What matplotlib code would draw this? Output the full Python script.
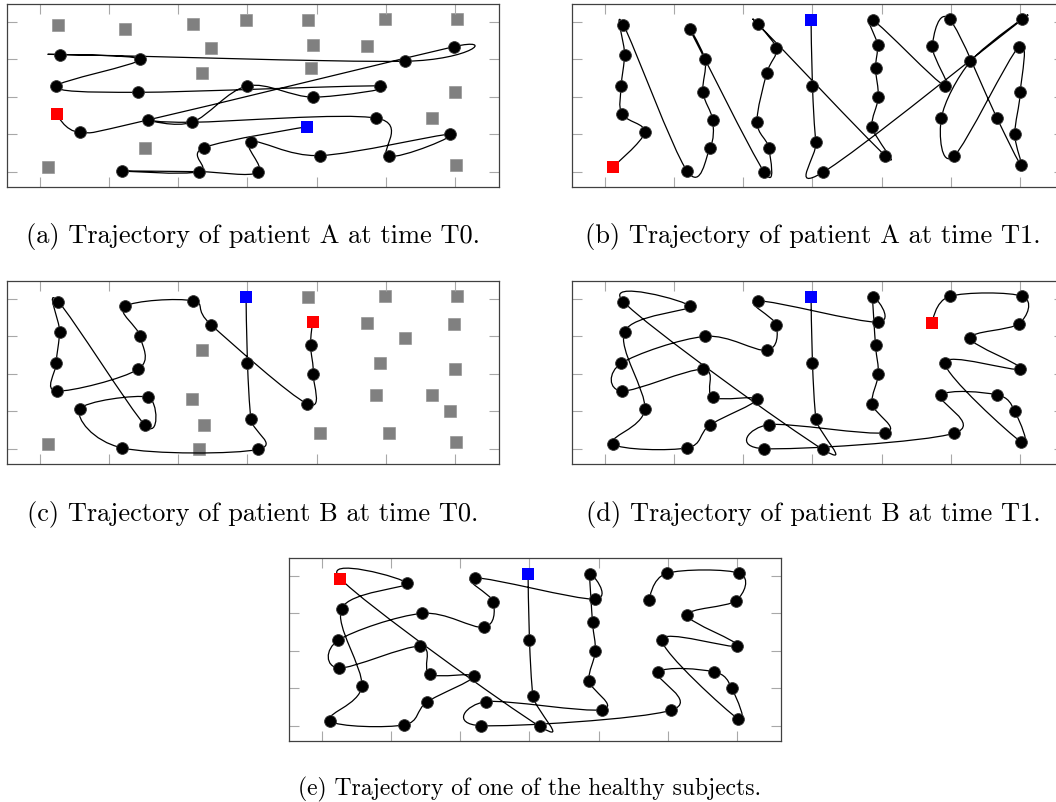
import numpy as np
import matplotlib
matplotlib.use("Agg")
import matplotlib.pyplot as plt
from matplotlib.path import Path
from matplotlib.patches import PathPatch

# target layout shared by every test sheet (grid units: x ticks 0..6, y ticks 0..4)
target_names = ["A1", "A2", "A3", "A4", "A5", "A6",
                "B1", "B2", "B3", "B4", "B5", "B6",
                "C1", "C2", "C3", "C4", "C5", "C6",
                "D1", "D2", "D3", "D4",
                "E1", "E2", "E3", "E4", "E5", "E6",
                "F1", "F2", "F3", "F4", "F5", "F6",
                "G1", "G2", "G3", "G4", "G5", "G6"]
target_x = [0.27, 0.29, 0.24, 0.25, 0.58, 0.12,
            1.23, 1.45, 1.42, 1.56, 1.52, 1.19,
            2.21, 2.48, 2.34, 2.20, 2.37, 2.30,
            2.98, 3.00, 3.05, 3.15,
            3.87, 3.94, 3.91, 3.95, 3.86, 4.05,
            4.98, 4.73, 5.28, 4.91, 4.86, 5.04,
            6.03, 5.98, 6.00, 5.66, 5.92, 6.01]
target_y = [3.93, 3.13, 2.28, 1.54, 1.05, 0.13,
            3.80, 3.00, 2.12, 1.38, 0.63, 0.02,
            3.95, 3.30, 2.63, 1.32, 0.64, 0.00,
            4.05, 2.29, 0.80, -0.02,
            4.05, 3.38, 2.76, 1.99, 1.20, 0.43,
            4.07, 3.35, 2.95, 2.29, 1.43, 0.41,
            4.07, 3.34, 2.13, 1.44, 1.00, 0.18]

# visiting order of each recording
path_a_t0 = ["A4", "A5", "B4", "G2", "F3", "A2", "B2", "A3", "B3", "F4", "E4", "D2",
             "C4", "B4", "C4", "F5", "F6", "G5", "E6", "D3", "D4", "C6", "B6", "C6",
             "C5", "E5"]
path_a_t1 = ["A6", "A5", "A4", "A3", "A2", "A1", "B6", "B5", "B4", "B3", "B2", "B1",
             "C6", "C5", "C4", "C3", "C2", "C1", "E6", "E5", "E4", "E3", "E2", "E1",
             "F4", "F2", "F1", "G4", "G6", "G5", "G3", "G2", "F6", "F5", "F3", "G1",
             "D4", "D3", "D2", "D1"]
path_b_t0 = ["E2", "E3", "E4", "E5", "C2", "C1", "B1", "B2", "B3", "A4", "A3", "A2",
             "A1", "B5", "B4", "A5", "B6", "D4", "D3", "D2", "D1"]
path_b_t1 = ["F2", "F1", "G1", "G2", "F3", "G3", "F4", "G6", "G5", "G4", "F5", "F6",
             "C6", "C5", "E6", "E5", "E4", "E3", "E1", "E2", "C1", "C2", "C3", "B2",
             "A3", "A4", "B3", "B4", "C4", "B5", "B6", "A6", "A5", "A2", "B1", "A1",
             "D4", "D3", "D2", "D1"]
path_healthy = list(path_b_t1)

red_targets = ["A4", "A6", "E2", "F2", "A1"]
blue_targets = ["E5", "D1", "D1", "D1", "D1"]

captions = ["(a) Trajectory of patient A at time T0.",
            "(b) Trajectory of patient A at time T1.",
            "(c) Trajectory of patient B at time T0.",
            "(d) Trajectory of patient B at time T1.",
            "(e) Trajectory of one of the healthy subjects."]
paths = [path_a_t0, path_a_t1, path_b_t0, path_b_t1, path_healthy]

pos = dict(zip(target_names, zip(target_x, target_y)))

FIG_W, FIG_H = 1056, 802
AX_W, AX_H = 492, 183
# panel top-left corners, caption centres (pixels) and caption sizes
panel_px = [(7, 4), (572, 4), (7, 281), (572, 281), (289, 558)]
caption_px = [(253, 236), (813, 236), (253, 514), (813, 514), (530, 789)]
caption_size = [19, 19, 19, 19, 17]


def smooth_path(names, k=1.0 / 6):
    p = np.array([pos[n] for n in names], dtype=float)
    tan = np.zeros_like(p)
    tan[1:-1] = p[2:] - p[:-2]
    verts = [p[0]]
    codes = [Path.MOVETO]
    for i in range(len(p) - 1):
        verts += [p[i] + k * tan[i], p[i + 1] - k * tan[i + 1], p[i + 1]]
        codes += [Path.CURVE4] * 3
    return Path(verts, codes)


fig = plt.figure(figsize=(FIG_W / 100, FIG_H / 100), dpi=100)

for idx in range(5):
    left, top = panel_px[idx]
    ax = fig.add_axes([left / FIG_W, 1 - (top + AX_H) / FIG_H, AX_W / FIG_W, AX_H / FIG_H])
    ax.set_xlim(-0.47, 6.63)
    ax.set_ylim(-0.41, 4.48)
    ax.set_xticks(range(7))
    ax.set_yticks(range(5))
    ax.tick_params(direction="in", length=7, width=0.8, color="#a8a8a8",
                   top=True, right=True, labelbottom=False, labelleft=False)
    for sp in ax.spines.values():
        sp.set_color("#404040")
        sp.set_linewidth(0.9)

    route = paths[idx]
    ax.add_patch(PathPatch(smooth_path(route), facecolor="none", edgecolor="black",
                           lw=0.9, zorder=2))

    visited = set(route)
    red, blue = red_targets[idx], blue_targets[idx]
    unvisited = [n for n in target_names if n not in visited and n not in (red, blue)]
    dots = [n for n in target_names if n in visited and n not in (red, blue)]

    ax.plot([pos[n][0] for n in unvisited], [pos[n][1] for n in unvisited], "s",
            color="#808080", ms=8, mec="#8a8a8a", mew=0.4, zorder=1, ls="none")
    ax.plot([pos[n][0] for n in dots], [pos[n][1] for n in dots], "o",
            color="black", ms=8.5, mec="#3a3a3a", mew=0.6, zorder=3, ls="none")
    ax.plot(*pos[red], "s", color="#ff0000", ms=8.5, mew=0, zorder=4)
    ax.plot(*pos[blue], "s", color="#0000ff", ms=8.5, mew=0, zorder=4)

    cx, cy = caption_px[idx]
    fig.text(cx / FIG_W, 1 - cy / FIG_H, captions[idx], ha="center", va="center",
             fontfamily="cmr10", fontsize=caption_size[idx])

fig.savefig("out.png", dpi=100)
